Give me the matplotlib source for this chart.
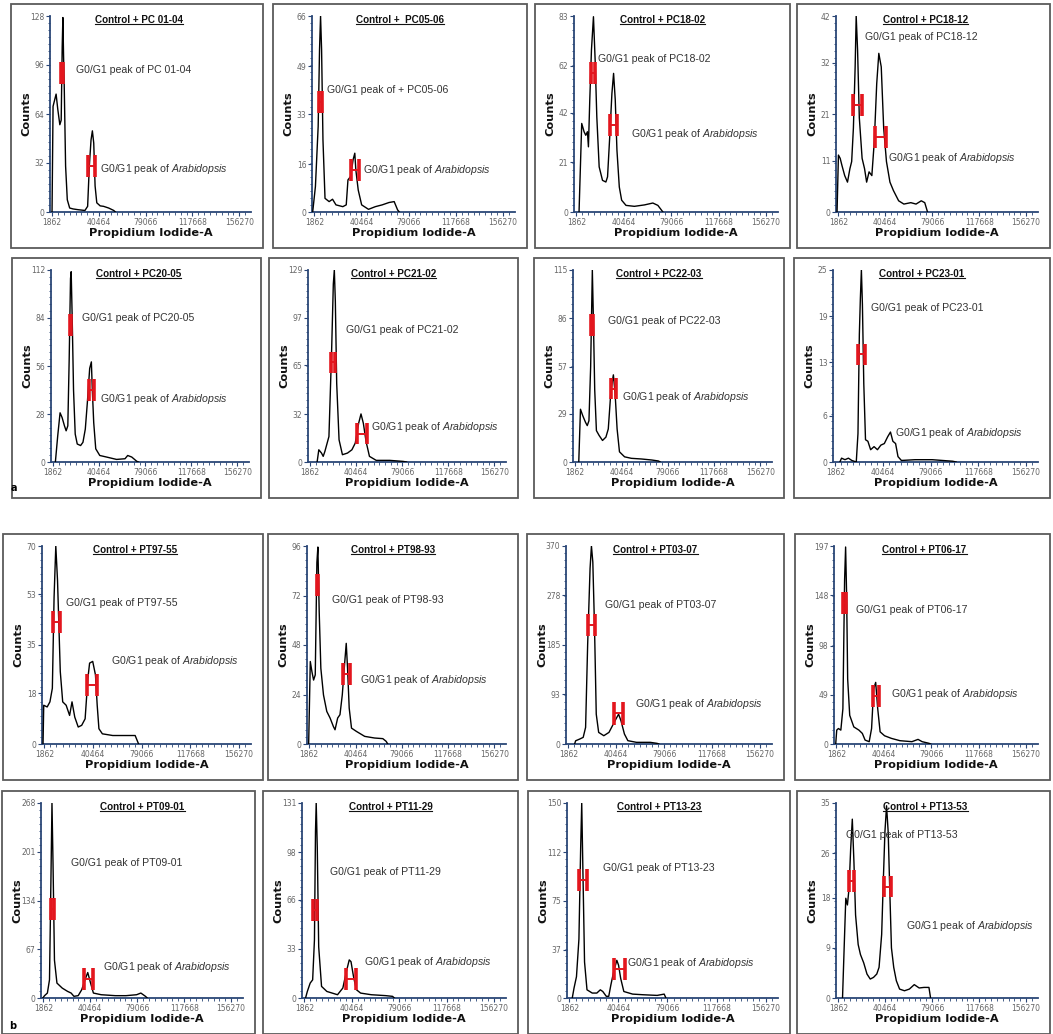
import matplotlib
matplotlib.use('Agg')
from matplotlib import pyplot as plt
import matplotlib.ticker as ticker
from matplotlib.lines import Line2D
from matplotlib.patches import Rectangle

plt.rcParams['mathtext.fontset'] = 'custom'
plt.rcParams['mathtext.rm'] = 'Liberation Sans'
plt.rcParams['mathtext.it'] = 'Liberation Sans:italic'

W, H = 1053, 1034
x_ticks = [1862, 40464, 79066, 117668, 156270]
x_max = 166000

# ---- histogram traces (channel value, counts) ----
x_pc0104 = [1680, 2520, 5040, 6440, 8120, 9240, 10080, 10640, 11200, 11760, 12880, 14280, 16240, 19040, 23240,
            28840, 31080, 32480, 33880, 35000, 36120, 37240, 38640, 41440, 44240, 48440, 52640, 54040]
y_pc0104 = [0, 69, 77, 67, 57, 60, 108, 127, 102, 82, 30, 8, 2.6, 2, 1.5, 1, 3.7, 30, 47, 53, 45, 17, 6, 4, 3.7,
            2.6, 1, 0]
x_pc0506 = [560, 2800, 5040, 6160, 7000, 7840, 8960, 10640, 14000, 16800, 19600, 25200, 28000, 29400, 31640, 33600,
            35000, 35840, 37800, 40600, 46200, 51800, 57400, 63000, 67200, 70000, 71400]
y_pc0506 = [0, 8.6, 28.8, 54.7, 66, 54.7, 24.3, 4.6, 3.5, 4.3, 2.4, 1.8, 2.4, 10.8, 12, 17.6, 19.8, 14.2, 7.4, 2.4,
            0.9, 1.8, 2.4, 3.2, 3.5, 0.7, 0]
x_pc1802 = [4100, 6280, 8190, 9560, 10920, 11740, 12830, 14200, 15830, 17200, 18560, 20480, 23200, 25940, 27300,
            29210, 30850, 32210, 33580, 34940, 36860, 38770, 42320, 49140, 57330, 64160, 68250, 72350]
y_pc1802 = [0, 37.5, 34, 32.5, 34, 27.6, 47.4, 68.6, 82.7, 64.4, 40.3, 19.1, 13.4, 12.7, 14.9, 33.2, 50.2, 58.7,
            47.4, 26.2, 10.6, 5, 2.8, 2.4, 3, 3.8, 2.8, 0]
x_pc1812 = [860, 2000, 3430, 4860, 7150, 9440, 11440, 12870, 14300, 15730, 16590, 17730, 19160, 21450, 23450, 25170,
            27170, 29460, 31460, 33460, 35180, 37180, 39180, 41470, 44330, 47190, 51480, 55770, 61490, 65780, 70070,
            72930, 75220]
y_pc1812 = [0, 12.2, 11.5, 10, 7.8, 6.4, 9.3, 10.8, 18, 31.1, 42, 34.7, 20.2, 11.5, 9.3, 6.4, 8.6, 7.8, 15.1, 27.5,
            34, 31.1, 18, 10.8, 6.4, 4.6, 2.4, 1.7, 2, 1.7, 2.4, 2, 0]
x_pc2005 = [3670, 5640, 7610, 9310, 11280, 12690, 14100, 15230, 16360, 16920, 17770, 18890, 20300, 22000, 24820,
            26790, 28760, 30460, 32430, 33840, 34690, 35810, 37510, 40890, 46530, 54990, 62040, 64300, 67680, 71910,
            73320]
y_pc2005 = [0, 15.3, 28.7, 25.9, 21.1, 18.2, 21.1, 59.4, 107, 111, 84, 42, 16.3, 10.5, 9.6, 11.5, 19.2, 34.5, 54.6,
            58.4, 41.2, 23, 7.7, 3.8, 2.9, 1.5, 1.9, 3.8, 2.9, 0.4, 0]
x_pc2102 = [7640, 9060, 11320, 12740, 14150, 17550, 19810, 21230, 22070, 22920, 24060, 26040, 28870, 33110, 36790,
            39620, 42450, 44430, 46410, 48680, 51510, 57170, 68490, 79810, 82640]
y_pc2102 = [0, 8.2, 6, 3.8, 7.1, 17.1, 75, 119.6, 129, 108, 52.8, 14.9, 4.9, 6, 8.2, 12.7, 26, 32.3, 26, 13.8, 3.8,
            1.1, 1.1, 0.4, 0]
x_pc2203 = [4810, 6230, 8210, 10470, 11890, 13300, 14720, 16130, 16980, 18110, 19530, 21790, 24620, 27450, 29430,
            31700, 33680, 35090, 36790, 38770, 43020, 48680, 57170, 65660, 71320, 72730]
y_pc2203 = [0, 31.6, 27.6, 23.7, 21.8, 24.7, 57, 115, 86.5, 43.3, 18.8, 15.9, 12.9, 14.9, 19.8, 43.3, 52.2, 41.4,
            19.8, 6.1, 3.1, 2.2, 1.8, 1.2, 0.6, 0]
x_pc2301 = [5540, 6930, 9700, 12470, 15240, 18840, 20220, 21330, 22160, 22990, 23820, 24930, 26320, 28250, 30470,
            33240, 36010, 38780, 41550, 44320, 46540, 48480, 50690, 52630, 55400, 66480, 80330, 96950, 99720]
y_pc2301 = [0, 0.5, 0.3, 0.5, 0.2, 0, 3.7, 16.6, 21.3, 25, 20.5, 10.2, 2.9, 2.7, 1.6, 2, 1.6, 2.2, 2.4, 3.3, 3.9,
            2.7, 2.4, 0.7, 0.2, 0.3, 0.3, 0.1, 0]
x_pt9755 = [820, 1370, 4110, 6300, 8220, 9590, 10960, 12330, 14520, 16440, 19180, 21920, 23840, 26030, 28770, 31510,
            34250, 36440, 37810, 40280, 42470, 43840, 45210, 47950, 56170, 67130, 73980, 76720]
y_pt9755 = [0, 13.7, 13.1, 14.9, 19.7, 51.8, 70, 57.8, 25.6, 14.9, 13.7, 10.1, 14.9, 9.5, 6, 6.6, 8.9, 23.2, 28.6,
            29.2, 24.4, 13.7, 5.4, 3.6, 3, 3, 3, 0]
x_pt9893 = [1380, 2750, 4130, 5500, 6880, 8250, 9080, 10180, 11550, 13750, 16500, 19250, 22000, 23380, 25580, 27500,
            29430, 31080, 32730, 33830, 35200, 37130, 41250, 48130, 56380, 63250, 66000, 67380]
y_pt9893 = [0, 40, 35, 31, 33.5, 88, 95.5, 64, 36.7, 23.8, 15.8, 12.6, 8.5, 6.9, 12.6, 14.2, 23.8, 36.7, 48.8, 36.7,
            17.4, 7.7, 6.1, 3.7, 2.9, 2.6, 1.3, 0]
x_pt0307 = [6930, 7760, 11080, 13850, 15790, 17450, 19390, 20500, 21610, 22990, 24380, 26320, 30470, 34630, 37400,
            40170, 42380, 44320, 47090, 49860, 56790, 67870, 73410, 74790]
y_pt0307 = [0, 6, 9.3, 12.4, 31, 186, 328, 370, 340, 217, 55.7, 21.7, 15.5, 21.7, 34, 46.4, 55.7, 43.3, 18.6, 6.2,
            3.1, 3.1, 1.2, 0]
x_pt0617 = [1390, 2220, 3610, 5560, 7230, 8620, 9450, 10290, 11120, 12790, 16120, 20290, 23070, 25300, 28630, 30580,
            32250, 33920, 35580, 37530, 41140, 46700, 53650, 63380, 68390, 71720, 77280, 78670]
y_pt0617 = [0, 13.8, 15.4, 13.8, 35, 163, 196, 147, 64.6, 28.5, 17, 13.8, 10.5, 3.9, 2.3, 15.4, 54.8, 61.3, 35, 12.1,
            8.2, 5.6, 3.3, 2.3, 4.6, 2.3, 0.7, 0]
x_pt0901 = [1460, 2910, 5240, 6980, 8150, 9020, 9890, 11060, 13100, 17460, 21830, 24740, 27060, 30560, 33470, 36380,
            38410, 40740, 43070, 49470, 61110, 69840, 78570, 82060, 85850, 87300]
y_pt0901 = [0, 3.2, 6.8, 25, 161, 268, 184, 52, 20.5, 13.6, 9.1, 6.8, 2.3, 3.2, 11.4, 26, 35, 20.5, 6.8, 4.5, 3.2,
            3.2, 4.5, 6.8, 2.3, 0]
x_pt1129 = [2890, 4340, 6650, 8670, 10120, 10980, 11560, 12430, 13580, 15900, 20230, 24570, 28900, 33240, 36130,
            38440, 39880, 41910, 44220, 47690, 56360, 67920, 73700, 75140]
y_pt1129 = [0, 4.4, 10, 12.2, 38.9, 112, 131, 101, 34.4, 7.8, 4.4, 3.3, 2.2, 6.7, 17.8, 25.6, 24.4, 14.4, 5.6, 3.3,
            2.2, 1.6, 1.1, 0]
x_pt1323 = [4140, 5520, 7450, 9380, 10760, 11590, 12420, 13800, 15730, 19870, 23460, 26220, 28150, 30910, 32840,
            34500, 36710, 39190, 40570, 42230, 44710, 51610, 59890, 70930, 76450, 77830]
y_pt1323 = [0, 7.6, 16.4, 45.3, 116, 150, 103, 27.7, 6.3, 3.8, 3.8, 6.3, 5, 1.3, 1.3, 10, 20.2, 29, 25.2, 15.1, 5,
            3, 2.5, 2, 3, 0]
x_pt1353 = [5360, 6700, 8040, 9380, 10720, 12060, 13400, 14740, 16080, 18220, 20100, 22780, 25460, 28140, 30820,
            33500, 35380, 37520, 38860, 40200, 41540, 42880, 44220, 45560, 47440, 49580, 52260, 56280, 60300, 64320,
            68340, 72360, 76380, 77720]
y_pt1353 = [0, 9, 17.9, 16.7, 19.7, 26.8, 32.1, 24.4, 14.9, 9.6, 7.8, 6.3, 4.3, 3.4, 3.7, 4.3, 5.5, 11.4, 20.9,
            29.8, 34.5, 29.8, 19.1, 9, 5.5, 3.1, 1.6, 1.3, 1.6, 2.4, 1.8, 1.9, 1.9, 0]

# y tick values printed on each panel
yt_pc0104 = [0, 32, 64, 96, 128]
yt_pc0506 = [0, 16, 33, 49, 66]
yt_pc1802 = [0, 21, 42, 62, 83]
yt_pc1812 = [0, 11, 21, 32, 42]
yt_pc2005 = [0, 28, 56, 84, 112]
yt_pc2102 = [0, 32, 65, 97, 129]
yt_pc2203 = [0, 29, 57, 86, 115]
yt_pc2301 = [0, 6, 13, 19, 25]
yt_pt9755 = [0, 18, 35, 53, 70]
yt_pt9893 = [0, 24, 48, 72, 96]
yt_pt0307 = [0, 93, 185, 278, 370]
yt_pt0617 = [0, 49, 98, 148, 197]
yt_pt0901 = [0, 67, 134, 201, 268]
yt_pt1129 = [0, 33, 66, 98, 131]
yt_pt1323 = [0, 37, 75, 112, 150]
yt_pt1353 = [0, 9, 18, 26, 35]

# G0/G1 gates: (centre channel, centre count, half width)
gates_pc0104 = [(9800, 91, 700), (34440, 30, 2800)]
gates_pc0506 = [(7000, 37, 1400), (35000, 14, 3400)]
gates_pc1802 = [(15830, 59, 1640), (32210, 37, 2730)]
gates_pc1812 = [(17730, 23, 3580), (36890, 16, 4580)]
gates_pc2005 = [(16360, 80, 700), (33840, 42, 2260)]
gates_pc2102 = [(20940, 67, 1800), (45000, 19, 4250)]
gates_pc2203 = [(16130, 82, 900), (33680, 44, 2000)]
gates_pc2301 = [(22990, 14, 2770)]
gates_pt9755 = [(11510, 43, 2880), (39730, 21, 4110)]
gates_pt9893 = [(8800, 77, 600), (33000, 34, 2750)]
gates_pt0307 = [(20500, 223, 3050), (42100, 57, 3460)]
gates_pt0617 = [(8620, 140, 900), (34190, 48, 2780)]
gates_pt0901 = [(9310, 122, 1200), (39000, 26, 4070)]
gates_pt1129 = [(10690, 59, 1400), (39880, 13, 4340)]
gates_pt1323 = [(12420, 91, 3040), (41400, 22, 4140)]
gates_pt1353 = [(12860, 21, 2140), (42340, 20, 3220)]

sample_names = ['PC 01-04', '+ PC05-06', 'PC18-02', 'PC18-12', 'PC20-05', 'PC21-02', 'PC22-03', 'PC23-01',
                'PT97-55', 'PT98-93', 'PT03-07', 'PT06-17', 'PT09-01', 'PT11-29', 'PT13-23', 'PT13-53']
titles = ['Control + PC 01-04', 'Control +  PC05-06', 'Control + PC18-02', 'Control + PC18-12',
          'Control + PC20-05', 'Control + PC21-02', 'Control + PC22-03', 'Control + PC23-01',
          'Control + PT97-55', 'Control + PT98-93', 'Control + PT03-07', 'Control + PT06-17',
          'Control + PT09-01', 'Control + PT11-29', 'Control + PT13-23', 'Control + PT13-53']

traces = [(x_pc0104, y_pc0104), (x_pc0506, y_pc0506), (x_pc1802, y_pc1802), (x_pc1812, y_pc1812),
          (x_pc2005, y_pc2005), (x_pc2102, y_pc2102), (x_pc2203, y_pc2203), (x_pc2301, y_pc2301),
          (x_pt9755, y_pt9755), (x_pt9893, y_pt9893), (x_pt0307, y_pt0307), (x_pt0617, y_pt0617),
          (x_pt0901, y_pt0901), (x_pt1129, y_pt1129), (x_pt1323, y_pt1323), (x_pt1353, y_pt1353)]
yticks = [yt_pc0104, yt_pc0506, yt_pc1802, yt_pc1812, yt_pc2005, yt_pc2102, yt_pc2203, yt_pc2301,
          yt_pt9755, yt_pt9893, yt_pt0307, yt_pt0617, yt_pt0901, yt_pt1129, yt_pt1323, yt_pt1353]
gates = [gates_pc0104, gates_pc0506, gates_pc1802, gates_pc1812, gates_pc2005, gates_pc2102, gates_pc2203,
         gates_pc2301, gates_pt9755, gates_pt9893, gates_pt0307, gates_pt0617, gates_pt0901, gates_pt1129,
         gates_pt1323, gates_pt1353]

# where the two peak captions sit, in data units of each panel
caption_pos = [((21840, 93), (41440, 28)), ((12600, 41), (42000, 14)), ((19930, 65), (46410, 33)),
               ((23450, 37.5), (42900, 11.5)), ((26230, 84), (41450, 37)), ((31700, 89), (52900, 23.4)),
               ((28870, 84.5), (41040, 39)), ((30470, 20), (49860, 3.8)), ((19180, 50), (54800, 29.4)),
               ((20630, 70), (44550, 31)), ((31300, 260), (55400, 74)), ((17510, 133), (46700, 50)),
               ((24740, 185), (50930, 43)), ((23120, 84.5), (50580, 24.5)), ((28150, 100), (47200, 27)),
               ((8040, 29.2), (57620, 12.9))]

# panel boxes in pixels: rows (top, height), per-row (left, width)
row_y = [(4, 244), (258, 240), (534, 246), (791, 243)]
col_x = [[(11, 252), (273, 254), (535, 255), (797, 253)],
         [(12, 249), (269, 249), (534, 250), (794, 256)],
         [(3, 260), (268, 250), (527, 257), (795, 255)],
         [(2, 253), (263, 255), (528, 262), (797, 253)]]
title_shift = [2, 0, 0, 2, 2, 0, 0, 0, 2, 0, 0, 2, 14, 0, 0, 2]

AXIS_C = '#2a4676'
RED = '#e3161e'


def frac(px, py, pw, ph):
	return [px / W, 1 - (py + ph) / H, pw / W, ph / H]


def main():
	fig = plt.figure(figsize=(W / 100, H / 100), dpi=100)
	title_texts = []
	for i in range(16):
		r, c = divmod(i, 4)
		by, bh = row_y[r]
		bx, bw = col_x[r][c]
		fig.add_artist(Rectangle((bx / W, 1 - (by + bh) / H), bw / W, bh / H, transform=fig.transFigure,
		                         facecolor='white', edgecolor='#5a5a5a', lw=1.3, zorder=0))
		ax_l, ax_t = bx + 39, by + 12
		ax_w, ax_h = bw - 39 - 12, bh - 12 - 36
		ax = fig.add_axes(frac(ax_l, ax_t, ax_w, ax_h))
		ax.patch.set_alpha(0)
		xs, ys = traces[i]
		yt = yticks[i]
		ymax = yt[-1]
		ax.plot(xs, ys, color='black', lw=1.0, zorder=3)
		for cx, cy, hw in gates[i]:
			gh = ymax * 0.056
			for gx in (cx - hw, cx + hw):
				ax.plot([gx, gx], [cy - gh, cy + gh], color=RED, lw=2.6, solid_capstyle='butt', zorder=4)
			ax.plot([cx - hw, cx + hw], [cy, cy], color=RED, lw=1.4, zorder=4)
		(t1x, t1y), (t2x, t2y) = caption_pos[i]
		ax.text(t1x, t1y, 'G0/G1 peak of ' + sample_names[i], fontsize=7.6, color='#333333',
		        family='Liberation Sans', va='center', zorder=5)
		ax.text(t2x, t2y, r'G0/G1 peak of $\it{Arabidopsis}$', fontsize=7.6, color='#333333',
		        family='Liberation Sans', va='center', zorder=5)
		ax.set_xlim(0, x_max)
		ax.set_ylim(0, ymax)
		ax.set_xticks(x_ticks)
		ax.set_xticklabels([str(v) for v in x_ticks])
		ax.set_yticks(yt)
		ax.set_yticklabels([str(v) for v in yt])
		ax.xaxis.set_minor_locator(ticker.FixedLocator(
			[x_ticks[0] + k * (x_ticks[1] - x_ticks[0]) / 8 for k in range(0, 34)]))
		ax.yaxis.set_minor_locator(ticker.MultipleLocator(ymax / 28))
		for s in ('top', 'right'):
			ax.spines[s].set_visible(False)
		for s in ('left', 'bottom'):
			ax.spines[s].set_color(AXIS_C)
			ax.spines[s].set_linewidth(1.3)
		ax.tick_params(which='major', length=3, width=0.8, color=AXIS_C, labelsize=5.5,
		               labelcolor='#666666', pad=1)
		ax.tick_params(which='minor', length=1.8, width=0.6, color=AXIS_C)
		ax.text(-24 / ax_w, 0.5, 'Counts', transform=ax.transAxes, rotation=90, ha='center', va='center',
		        fontsize=8.2, fontweight='bold', color='#111111')
		ax.text(0.5, -21 / ax_h, 'Propidium Iodide-A', transform=ax.transAxes, ha='center', va='center',
		        fontsize=8.2, fontweight='bold', color='#111111')
		t = fig.text((bx + bw / 2 + title_shift[i]) / W, 1 - (by + 16) / H, titles[i], ha='center',
		             va='center', fontsize=7.1, fontweight='bold', family='Liberation Sans', color='#111111',
		             zorder=6)
		title_texts.append(t)

	fig.text(14 / W, 1 - 488 / H, 'a', fontsize=7, fontweight='bold', ha='center', va='center')
	fig.text(13 / W, 1 - 1026 / H, 'b', fontsize=7, fontweight='bold', ha='center', va='center')

	# underline the panel titles
	fig.canvas.draw()
	renderer = fig.canvas.get_renderer()
	for t in title_texts:
		bb = t.get_window_extent(renderer)
		yy = (bb.y0 + 1.5) / fig.bbox.height
		fig.add_artist(Line2D([bb.x0 / fig.bbox.width, bb.x1 / fig.bbox.width], [yy, yy],
		                      transform=fig.transFigure, color='#111111', lw=0.8, zorder=6))

	fig.savefig('out.png', dpi=100)


if __name__ == '__main__':
	main()
